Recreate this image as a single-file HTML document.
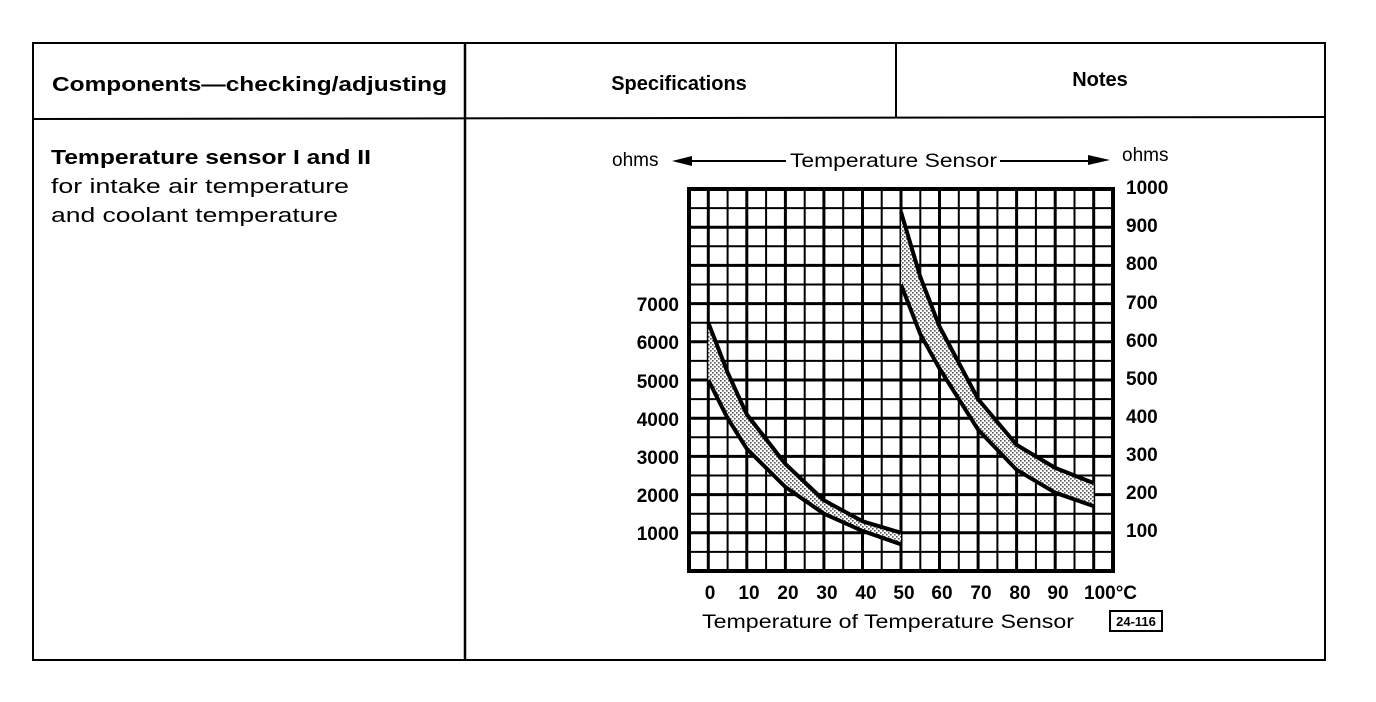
<!DOCTYPE html>
<html><head><meta charset="utf-8"><style>
html,body{margin:0;padding:0;background:#fff;}
svg{display:block;font-family:"Liberation Sans",sans-serif;}
</style></head><body>
<svg width="1376" height="702" viewBox="0 0 1376 702" xmlns="http://www.w3.org/2000/svg">
<defs>
<pattern id="dots" width="4" height="4" patternUnits="userSpaceOnUse">
<rect width="4" height="4" fill="#fff"/><rect x="0" y="0" width="1.6" height="1.6" fill="#555"/><rect x="2" y="2" width="1.6" height="1.6" fill="#555"/>
</pattern>
</defs>
<!-- table -->
<g stroke="#000" fill="none">
<rect x="33" y="43" width="1292" height="617" stroke-width="2"/>
<line x1="33" y1="119" x2="1325" y2="117" stroke-width="2"/>
<line x1="465" y1="43" x2="465" y2="660" stroke-width="2.5"/>
<line x1="896" y1="43" x2="896" y2="118" stroke-width="2"/>
</g>
<g font-weight="bold" font-size="20" fill="#000">
<text x="52" y="91" textLength="395" lengthAdjust="spacingAndGlyphs">Components—checking/adjusting</text>
<text x="679" y="90" text-anchor="middle">Specifications</text>
<text x="1100" y="86" text-anchor="middle">Notes</text>
<text x="51" y="164" textLength="320" lengthAdjust="spacingAndGlyphs">Temperature sensor I and II</text>
</g>
<g font-size="20" fill="#000">
<text x="51" y="193" textLength="298" lengthAdjust="spacingAndGlyphs">for intake air temperature</text>
<text x="51" y="222" textLength="287" lengthAdjust="spacingAndGlyphs">and coolant temperature</text>
</g>
<!-- chart grid -->
<g stroke="#000" stroke-width="2">
<line x1="727.6" y1="189" x2="727.6" y2="571"/><line x1="766.1" y1="189" x2="766.1" y2="571"/><line x1="804.7" y1="189" x2="804.7" y2="571"/><line x1="843.2" y1="189" x2="843.2" y2="571"/><line x1="881.7" y1="189" x2="881.7" y2="571"/><line x1="920.3" y1="189" x2="920.3" y2="571"/><line x1="958.8" y1="189" x2="958.8" y2="571"/><line x1="997.4" y1="189" x2="997.4" y2="571"/><line x1="1035.9" y1="189" x2="1035.9" y2="571"/><line x1="1074.5" y1="189" x2="1074.5" y2="571"/><line x1="1113" y1="189" x2="1113" y2="571"/>
<line x1="689" y1="208.1" x2="1113" y2="208.1"/><line x1="689" y1="246.3" x2="1113" y2="246.3"/><line x1="689" y1="284.5" x2="1113" y2="284.5"/><line x1="689" y1="322.7" x2="1113" y2="322.7"/><line x1="689" y1="360.9" x2="1113" y2="360.9"/><line x1="689" y1="399.1" x2="1113" y2="399.1"/><line x1="689" y1="437.3" x2="1113" y2="437.3"/><line x1="689" y1="475.5" x2="1113" y2="475.5"/><line x1="689" y1="513.7" x2="1113" y2="513.7"/><line x1="689" y1="551.9" x2="1113" y2="551.9"/>
</g>
<g stroke="#000" stroke-width="3">
<line x1="708.3" y1="189" x2="708.3" y2="571"/><line x1="746.8" y1="189" x2="746.8" y2="571"/><line x1="785.4" y1="189" x2="785.4" y2="571"/><line x1="823.9" y1="189" x2="823.9" y2="571"/><line x1="862.5" y1="189" x2="862.5" y2="571"/><line x1="901" y1="189" x2="901" y2="571"/><line x1="939.5" y1="189" x2="939.5" y2="571"/><line x1="978.1" y1="189" x2="978.1" y2="571"/><line x1="1016.6" y1="189" x2="1016.6" y2="571"/><line x1="1055.2" y1="189" x2="1055.2" y2="571"/><line x1="1093.7" y1="189" x2="1093.7" y2="571"/>
<line x1="689" y1="227.2" x2="1113" y2="227.2"/><line x1="689" y1="265.4" x2="1113" y2="265.4"/><line x1="689" y1="303.6" x2="1113" y2="303.6"/><line x1="689" y1="341.8" x2="1113" y2="341.8"/><line x1="689" y1="380" x2="1113" y2="380"/><line x1="689" y1="418.2" x2="1113" y2="418.2"/><line x1="689" y1="456.4" x2="1113" y2="456.4"/><line x1="689" y1="494.6" x2="1113" y2="494.6"/><line x1="689" y1="532.8" x2="1113" y2="532.8"/>
</g>
<rect x="689" y="189" width="424" height="382" fill="none" stroke="#000" stroke-width="4"/>
<!-- bands -->
<path d="M708.3,322.7 L727.6,372.4 746.8,414.4 785.4,464 823.9,500.3 862.5,521.3 901,532.8 L901,544.3 862.5,530.9 823.9,513.7 785.4,487 746.8,448.8 727.6,418.2 708.3,380 Z" fill="url(#dots)" stroke="none"/>
<path d="M901,211.9 L920.3,276.9 939.5,326.5 978.1,399.1 1016.6,444.9 1055.2,467.9 1093.7,483.1 L1093.7,506.1 1055.2,492.7 1016.6,469.8 978.1,429.7 939.5,368.5 920.3,334.2 901,284.5 Z" fill="url(#dots)" stroke="none"/>
<g fill="none" stroke="#000" stroke-width="4" stroke-linejoin="round">
<polyline points="708.3,322.7 727.6,372.4 746.8,414.4 785.4,464 823.9,500.3 862.5,521.3 901,532.8"/>
<polyline points="708.3,380 727.6,418.2 746.8,448.8 785.4,487 823.9,513.7 862.5,530.9 901,544.3"/>
<polyline points="901,211.9 920.3,276.9 939.5,326.5 978.1,399.1 1016.6,444.9 1055.2,467.9 1093.7,483.1"/>
<polyline points="901,284.5 920.3,334.2 939.5,368.5 978.1,429.7 1016.6,469.8 1055.2,492.7 1093.7,506.1"/>
</g>
<!-- labels -->
<g font-size="19" fill="#000" font-weight="bold">
<g text-anchor="end">
<text x="679" y="311">7000</text><text x="679" y="349">6000</text><text x="679" y="388">5000</text><text x="679" y="426">4000</text><text x="679" y="464">3000</text><text x="679" y="502">2000</text><text x="679" y="540">1000</text>
</g>
<text x="1126" y="194">1000</text><text x="1126" y="232">900</text><text x="1126" y="270">800</text><text x="1126" y="309">700</text><text x="1126" y="347">600</text><text x="1126" y="385">500</text><text x="1126" y="423">400</text><text x="1126" y="461">300</text><text x="1126" y="499">200</text><text x="1126" y="537">100</text>
<g text-anchor="middle">
<text x="710" y="599">0</text><text x="749" y="599">10</text><text x="788" y="599">20</text><text x="827" y="599">30</text><text x="866" y="599">40</text><text x="904" y="599">50</text><text x="942" y="599">60</text><text x="981" y="599">70</text><text x="1020" y="599">80</text><text x="1058" y="599">90</text>
</g>
<text x="1084" y="599">100°C</text>
</g>
<g font-size="19" fill="#000">
<text x="702" y="628" textLength="372" lengthAdjust="spacingAndGlyphs">Temperature of Temperature Sensor</text>
<text x="612" y="166">ohms</text>
<text x="1122" y="161">ohms</text>
<text x="790" y="167" textLength="207" lengthAdjust="spacingAndGlyphs">Temperature Sensor</text>
</g>
<rect x="1110" y="611" width="52" height="20" fill="none" stroke="#000" stroke-width="2"/>
<text x="1136" y="626" font-size="13" font-weight="bold" text-anchor="middle">24-116</text>
<!-- arrows -->
<g stroke="#000" stroke-width="2">
<line x1="685" y1="161" x2="786" y2="161"/>
<line x1="1000" y1="161" x2="1092" y2="161"/>
</g>
<polygon points="672,161 692,156 692,166" fill="#000"/>
<polygon points="1110,160 1088,155 1088,165" fill="#000"/>
</svg>
</body></html>
